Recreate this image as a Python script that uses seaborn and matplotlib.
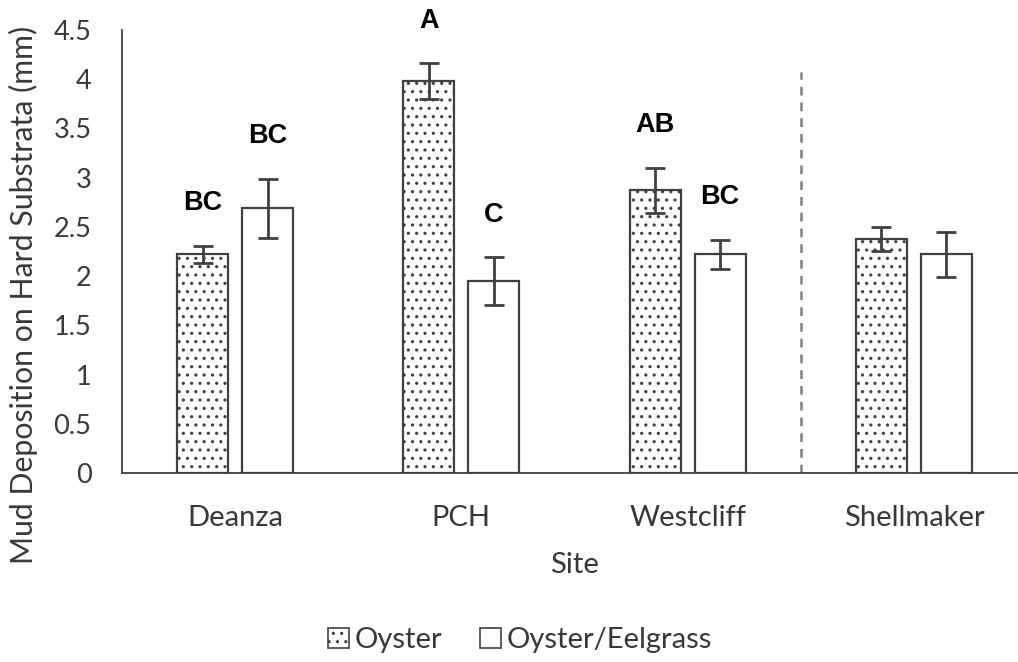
import matplotlib
matplotlib.use("Agg")
import matplotlib.pyplot as plt
from matplotlib.patches import Patch
import numpy as np
import pandas as pd
import seaborn as sns

# Mean mud deposition (mm) per site and substrate treatment, with standard errors
sites = ["Deanza", "PCH", "Westcliff", "Shellmaker"]
treatments = ["Oyster", "Oyster/Eelgrass"]
oyster_mean = [2.22, 3.98, 2.87, 2.38]
oyster_se = [0.09, 0.18, 0.23, 0.12]
eelgrass_mean = [2.69, 1.95, 2.22, 2.22]
eelgrass_se = [0.30, 0.24, 0.15, 0.23]
# Tukey grouping letters (blank where no comparison was made)
oyster_letters = ["BC", "A", "AB", ""]
eelgrass_letters = ["BC", "C", "BC", ""]

df = pd.DataFrame({
    "Site": sites * 2,
    "Treatment": [treatments[0]] * 4 + [treatments[1]] * 4,
    "Mud": oyster_mean + eelgrass_mean,
})

sns.set_theme(style="white")
plt.rcParams["font.family"] = ["Lato", "DejaVu Sans"]
plt.rcParams["hatch.color"] = "#303030"
plt.rcParams["hatch.linewidth"] = 1.1

text_grey = "#383838"
line_grey = "#404040"
fs = 21

fig = plt.figure(figsize=(10.18, 6.62), dpi=100)
ax = fig.add_axes([122 / 1018, 1 - 473 / 662, 905 / 1018, 443 / 662])

sns.barplot(
    data=df, x="Site", y="Mud", hue="Treatment", order=sites, hue_order=treatments,
    palette=["white", "white"], edgecolor=line_grey, linewidth=1.6,
    width=0.574, gap=0.216, errorbar=None, legend=False, ax=ax,
)

# Dotted fill for the oyster-only bars
for bar in ax.containers[0]:
    bar.set_hatch("..")

# Standard error bars and grouping letters
for cont, means, ses, letters in [
    (ax.containers[0], oyster_mean, oyster_se, oyster_letters),
    (ax.containers[1], eelgrass_mean, eelgrass_se, eelgrass_letters),
]:
    xs = [p.get_x() + p.get_width() / 2 for p in cont]
    ax.errorbar(xs, means, yerr=ses, fmt="none", ecolor=line_grey,
                elinewidth=2, capsize=7.5, capthick=2, zorder=5)
    for x, m, s, lab in zip(xs, means, ses, letters):
        if lab:
            ax.text(x, m + s + 0.43, lab, ha="center", va="center",
                    fontsize=19.5, fontweight="bold", color="black",
                    family=["Liberation Sans"], clip_on=False)

# Divider separating the reference site
ax.plot([2.5, 2.5], [0, 4.07], color="#7f7f7f", lw=1.8, ls=(0, (3.5, 2.8)))

ax.set_xlim(-0.5, 3.5)
ax.set_ylim(0, 4.5)
ax.set_yticks(np.arange(0, 4.51, 0.5))
ax.set_yticklabels([f"{v:g}" for v in np.arange(0, 4.51, 0.5)])
ax.tick_params(axis="both", length=0, colors=text_grey)
ax.tick_params(axis="y", pad=22, labelsize=19.5)
ax.tick_params(axis="x", pad=23, labelsize=fs)

for side in ["top", "right"]:
    ax.spines[side].set_visible(False)
for side in ["left", "bottom"]:
    ax.spines[side].set_color(line_grey)
    ax.spines[side].set_linewidth(1.3)

ax.set_xlabel("Site", fontsize=fs, color=text_grey)
ax.set_ylabel("Mud Deposition on Hard Substrata (mm)", fontsize=21.8, color=text_grey)
ax.xaxis.set_label_coords(0.5, -0.178)
ax.yaxis.set_label_coords(-0.093, 0.402)

handles = [
    Patch(facecolor="white", edgecolor=line_grey, hatch="..", lw=1.2, label=treatments[0]),
    Patch(facecolor="white", edgecolor=line_grey, lw=1.2, label=treatments[1]),
]
fig.legend(handles=handles, loc="center", bbox_to_anchor=(0.511, 0.033), ncol=2,
           frameon=False, fontsize=fs, labelcolor=text_grey, handlelength=0.7,
           handleheight=0.7, handletextpad=0.2, columnspacing=1.3)

fig.savefig("out.png", dpi=100)
